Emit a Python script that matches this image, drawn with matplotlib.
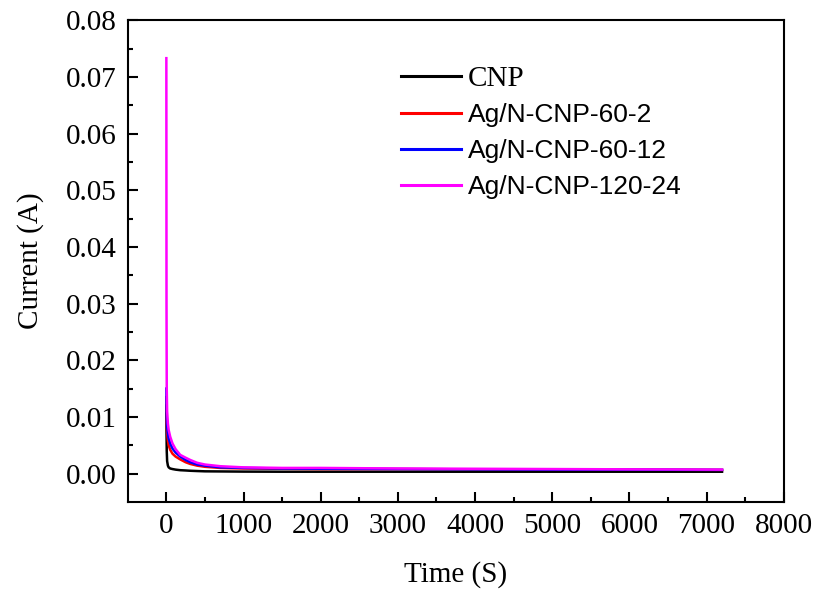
import matplotlib.pyplot as plt
import numpy as np

plt.rcParams['font.family'] = 'Liberation Serif'

# chronoamperometry, time in s, current in A
time = [0, 2, 5, 10, 20, 30, 50, 80, 120, 180, 250, 310, 400, 500, 700,
        1000, 1500, 2000, 3000, 4000, 5000, 6000, 7200]
cnp = [0.0120, 0.0075, 0.0040, 0.0022, 0.0014, 0.0011, 0.0009, 0.0008,
       0.0007, 0.0006, 0.00055, 0.0005, 0.00045, 0.0004, 0.00038, 0.00035,
       0.00033, 0.00033, 0.00033, 0.00033, 0.00033, 0.00033, 0.00033]
ag_60_2 = [0.0135, 0.0110, 0.0090, 0.0072, 0.0058, 0.0050, 0.0042, 0.0035,
           0.0030, 0.0025, 0.0020, 0.0017, 0.0014, 0.0012, 0.0010, 0.0009,
           0.00085, 0.0008, 0.0008, 0.00075, 0.0007, 0.0007, 0.00065]
ag_60_12 = [0.0150, 0.0125, 0.0100, 0.0083, 0.0070, 0.0062, 0.0053, 0.0044,
            0.0037, 0.0030, 0.0024, 0.0020, 0.0016, 0.0014, 0.0011, 0.0010,
            0.0009, 0.00085, 0.0008, 0.00075, 0.0007, 0.0007, 0.00065]
ag_120_24 = [0.0733, 0.0300, 0.0150, 0.0110, 0.0088, 0.0077, 0.0065, 0.0053,
             0.0043, 0.0033, 0.0028, 0.0024, 0.0019, 0.0016, 0.0013, 0.0011,
             0.0010, 0.0010, 0.0009, 0.00085, 0.0008, 0.00075, 0.0007]

labels = ['CNP', 'Ag/N-CNP-60-2', 'Ag/N-CNP-60-12', 'Ag/N-CNP-120-24']
colors = ['black', 'red', 'blue', 'magenta']

fig = plt.figure(figsize=(8.19, 5.94), dpi=100)
ax = fig.add_axes([0.156, 0.155, 0.801, 0.811])

for y, lab, c in zip([cnp, ag_60_2, ag_60_12, ag_120_24], labels, colors):
    ax.plot(time, y, color=c, lw=1.8, label=lab)

ax.set_xlim(-500, 8000)
ax.set_ylim(-0.005, 0.08)
ax.set_xticks(np.arange(0, 8001, 1000))
ax.set_yticks(np.arange(0, 0.081, 0.01))
ax.set_yticklabels(['%.2f' % v for v in np.arange(0, 0.081, 0.01)])
ax.set_xticks(np.arange(500, 8000, 1000), minor=True)
ax.set_yticks(np.arange(0.005, 0.08, 0.01), minor=True)
ax.tick_params(which='both', direction='in', labelsize=21, width=1.5, pad=8)
ax.tick_params(which='major', length=7)
ax.tick_params(which='minor', length=3.5)
for s in ax.spines.values():
    s.set_linewidth(1.5)

ax.set_xlabel('Time (S)', fontsize=21, labelpad=16)
ax.set_ylabel('Current (A)', fontsize=21, labelpad=16)

leg = ax.legend(loc='upper left', bbox_to_anchor=(0.38, 0.955), frameon=False,
                fontsize=19, handlelength=2.3, handletextpad=0.25,
                labelspacing=0.45)
for line in leg.get_lines():
    line.set_linewidth(2.2)
for i, t in enumerate(leg.get_texts()):
    if i == 0:
        t.set_fontsize(21)
    else:
        t.set_fontfamily('Liberation Sans')

fig.savefig('out.png', dpi=100)
